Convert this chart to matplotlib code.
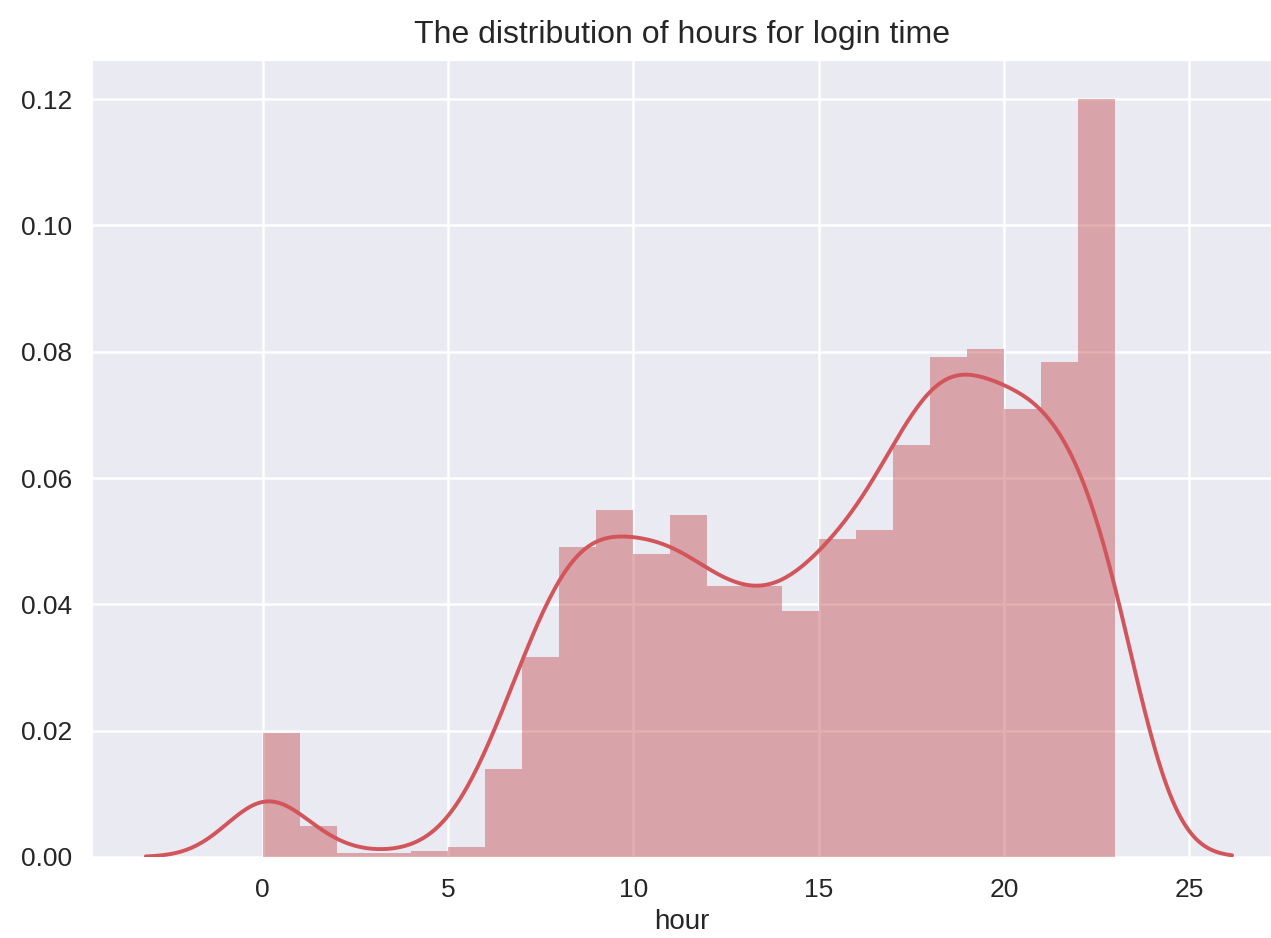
import numpy as np
import matplotlib
matplotlib.use('Agg')
import matplotlib.pyplot as plt
import seaborn as sns

# hour-of-day login share (density per 1-hour bin)
hours = np.arange(0, 24)
hour_share = [0.0197, 0.0049, 0.0007, 0.0007, 0.0009, 0.0016, 0.0139, 0.0317,
              0.0491, 0.0549, 0.0479, 0.0541, 0.0429, 0.0429, 0.0390, 0.0503,
              0.0517, 0.0652, 0.0792, 0.0805, 0.0709, 0.0784, 0.0610, 0.0591]
bin_edges = np.linspace(0, 23, 24)
kde_bandwidth = 1.05

sns.set_style('darkgrid')
plt.rcParams['font.family'] = ['Liberation Sans Narrow', 'Liberation Sans', 'DejaVu Sans']
plt.rcParams['grid.linewidth'] = 1.8

hist_color = '#C44E52'
line_color = '#d1555a'

fig = plt.figure(figsize=(12.71, 9.38), dpi=100)
ax = fig.add_axes([0.0724, 0.0864, 0.9276, 0.8496])

ax.hist(hours, bins=bin_edges, weights=hour_share, color=hist_color, alpha=0.45,
        linewidth=0, zorder=2)

# gaussian kde of the hourly shares, cut at 3 bandwidths like distplot
w = np.array(hour_share) / np.sum(hour_share)
grid = np.linspace(hours.min() - 3 * kde_bandwidth, hours.max() + 3 * kde_bandwidth, 400)
dens = (w[None, :] * np.exp(-0.5 * ((grid[:, None] - hours[None, :]) / kde_bandwidth) ** 2)).sum(axis=1)
dens /= kde_bandwidth * np.sqrt(2 * np.pi)
ax.plot(grid, dens, color=line_color, lw=2.8, zorder=3)

ax.set_xlim(-4.6, 27.2)
ax.set_ylim(0, 0.1262)
ax.set_xticks([0, 5, 10, 15, 20, 25])
ax.set_yticks([0.0, 0.02, 0.04, 0.06, 0.08, 0.10, 0.12])
ax.set_yticklabels(['0.00', '0.02', '0.04', '0.06', '0.08', '0.10', '0.12'])
ax.grid(True, color='white', linewidth=1.8)
ax.tick_params(labelsize=19, colors='#262626')
ax.tick_params(axis='y', pad=11)
ax.tick_params(axis='x', pad=12)
ax.set_xlabel('hour', fontsize=20, color='#262626', labelpad=5)
ax.set_title('The distribution of hours for login time', fontsize=23, color='#262626', pad=12)

fig.savefig('out.png', dpi=100)
